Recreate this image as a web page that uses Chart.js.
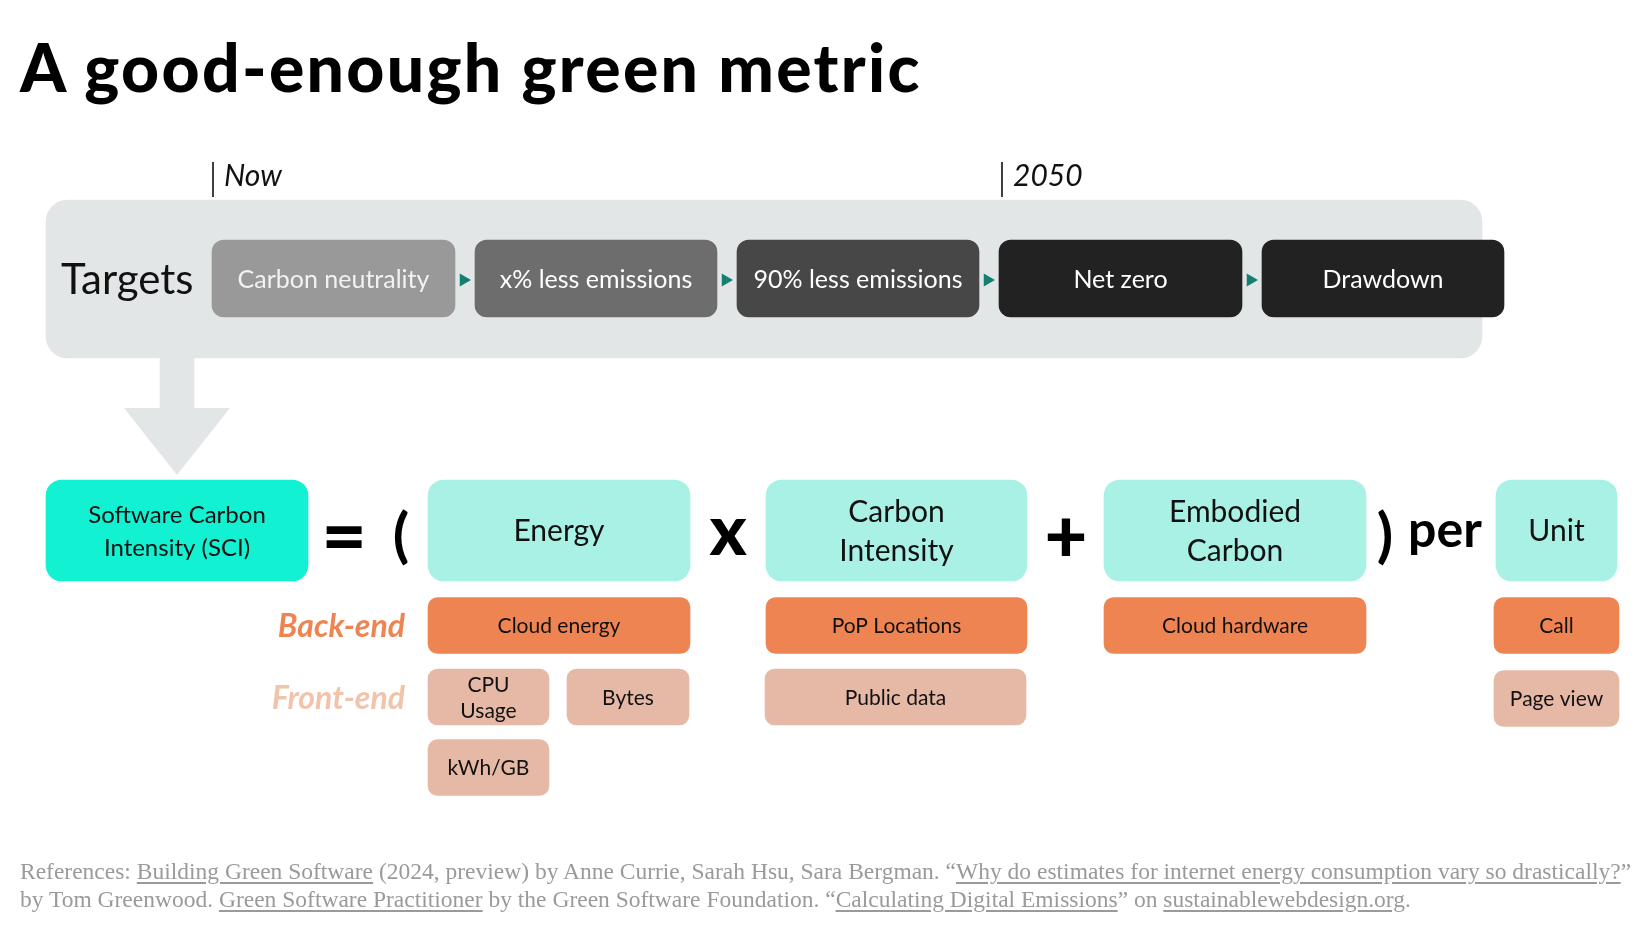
<!DOCTYPE html>
<html>
<head>
<meta charset="utf-8">
<title>A good-enough green metric</title>
<script src="https://cdn.jsdelivr.net/npm/chart.js@4.4.1/dist/chart.umd.min.js"></script>
<style>
  html, body { margin: 0; padding: 0; background: #fff; }
  #wrap { position: relative; width: 1647px; height: 940px; overflow: hidden; }
  #myChart { position: absolute; left: 0; top: 0; }
  h1 { position: absolute; left: 20px; top: 34px; margin: 0; font: 900 66px/66px Lato, sans-serif; letter-spacing: 2.3px; color: #000; white-space: nowrap; }
  .refs { position: absolute; left: 20px; top: 858px; margin: 0; font: 23.5px/27.5px "Liberation Serif", serif; color: #9a9a9a; white-space: nowrap; }
  .refs a { color: #9a9a9a; text-decoration: underline; text-underline-offset: 3px; }
</style>
</head>
<body>
<div id="wrap">
  <canvas id="myChart" width="1647" height="940"></canvas>
  <h1>A good-enough green metric</h1>
  <p class="refs">References: <a>Building Green Software</a> (2024, preview) by Anne Currie, Sarah Hsu, Sara Bergman. “<a>Why do estimates for internet energy consumption vary so drastically?</a>”<br>by Tom Greenwood. <a>Green Software Practitioner</a> by the Green Software Foundation. “<a>Calculating Digital Emissions</a>” on <a>sustainablewebdesign.org</a>.</p>
</div>
<script>
// texts of the slide
const milestones = ['Now', '2050'];
const targets = ['Carbon neutrality', 'x% less emissions', '90% less emissions', 'Net zero', 'Drawdown'];
const terms = [['Software Carbon', 'Intensity (SCI)'], ['Energy'], ['Carbon', 'Intensity'], ['Embodied', 'Carbon'], ['Unit']];
const operators = ['=', '(', 'x', '+', ')', 'per'];
const rowNames = ['Back-end', 'Front-end'];
const backEnd = ['Cloud energy', 'PoP Locations', 'Cloud hardware', 'Call'];
const frontEnd = [['CPU', 'Usage'], ['Bytes'], ['Public data'], ['Page view'], ['kWh/GB']];

// slide layout, 1 unit = 1 px on both axes
const W = 1647, H = 940;
const layout = {
  panel: { x: [46, 1482], y: 279, h: 158 },
  shaft: { x: [160, 194], y: 383, h: 52 },
  head: { x: [124, 177, 230], top: 408, tip: 475 },
  milestoneX: [213, 1002],
  milestoneY: 179.5,
  targetY: 278.5, targetH: 77,
  targetCols: [[212, 455], [475, 717], [737, 979], [999, 1242], [1262, 1504]],
  termY: 530.5, termH: 101,
  termCols: [[46, 308], [428, 690], [766, 1027], [1104, 1366], [1496, 1617]],
  operatorX: [344, 401, 728, 1066, 1385, 1445],
  operatorY: 537,
  backY: 625.5, rowH: 56,
  backCols: [[428, 690], [766, 1027], [1104, 1366], [1494, 1619]],
  frontY: [697, 697, 697, 698.5, 767.5],
  frontCols: [[428, 549], [567, 689], [765, 1026], [1494, 1619], [428, 549]],
};

const grey = '#e3e6e7';
const targetColors = ['#999999', '#6d6d6d', '#474747', '#222222', '#222222'];
const termColors = ['#12f1d1', '#a9f1e5', '#a9f1e5', '#a9f1e5', '#a9f1e5'];

const arrowPoints = layout.targetCols.slice(1).map((c, i) => ({
  x: (layout.targetCols[i][1] + c[0]) / 2 - 1.5,
  y: layout.targetY + 1.5,
}));

const data = {
  datasets: [
    {
      type: 'scatter',
      data: milestones.map((m, i) => ({ x: layout.milestoneX[i], y: layout.milestoneY })),
      pointStyle: 'line', rotation: 90, pointRadius: 17.5,
      borderColor: '#000', borderWidth: 1.5, order: 1,
    },
    {
      type: 'scatter',
      data: arrowPoints,
      pointStyle: 'triangle', rotation: 90, pointRadius: 7.5,
      backgroundColor: '#127f70', borderWidth: 0, order: 1,
    },
    {
      type: 'bar', indexAxis: 'y', grouped: false,
      data: targets.map((t, i) => ({ x: layout.targetCols[i], y: layout.targetY })),
      texts: targets,
      textColor: ['#f2f2f2', '#fff', '#fff', '#fff', '#fff'],
      font: '400 25px Lato', lineHeight: 30,
      backgroundColor: targetColors,
      barThickness: layout.targetH, borderRadius: 12, borderSkipped: false, order: 2,
    },
    {
      type: 'bar', indexAxis: 'y', grouped: false,
      data: terms.map((t, i) => ({ x: layout.termCols[i], y: layout.termY })),
      texts: terms,
      textColor: '#111',
      font: ['400 24px Lato', '400 30px Lato', '400 30px Lato', '400 30px Lato', '400 30px Lato'],
      lineHeight: [33, 39, 39, 39, 39],
      backgroundColor: termColors,
      barThickness: layout.termH, borderRadius: 16, borderSkipped: false, order: 2,
    },
    {
      type: 'bar', indexAxis: 'y', grouped: false,
      data: backEnd.map((t, i) => ({ x: layout.backCols[i], y: layout.backY })),
      texts: backEnd,
      textColor: '#111', font: '400 21px Lato', lineHeight: 26,
      backgroundColor: '#ef8453',
      barThickness: layout.rowH, borderRadius: 10, borderSkipped: false, order: 2,
    },
    {
      type: 'bar', indexAxis: 'y', grouped: false,
      data: frontEnd.map((t, i) => ({ x: layout.frontCols[i], y: layout.frontY[i] })),
      texts: frontEnd,
      textColor: '#111', font: '400 21px Lato', lineHeight: 26,
      backgroundColor: '#e6b9a6',
      barThickness: layout.rowH, borderRadius: 10, borderSkipped: false, order: 2,
    },
    {
      type: 'line',
      data: layout.head.x.map((x, i) => ({ x, y: i === 1 ? layout.head.tip : layout.head.top })),
      fill: { value: layout.head.top },
      backgroundColor: grey, borderColor: 'transparent', borderWidth: 0,
      pointRadius: 0, tension: 0, order: 8,
    },
    {
      type: 'bar', indexAxis: 'y', grouped: false,
      data: [{ x: layout.shaft.x, y: layout.shaft.y }],
      backgroundColor: grey, barThickness: layout.shaft.h, borderRadius: 0, borderSkipped: false, order: 9,
    },
    {
      type: 'bar', indexAxis: 'y', grouped: false,
      data: [{ x: layout.panel.x, y: layout.panel.y }],
      backgroundColor: grey, barThickness: layout.panel.h, borderRadius: 22, borderSkipped: false, order: 10,
    },
  ],
};

const pick = (v, i) => (Array.isArray(v) ? v[i] : v);

// writes the labels into the boxes and the loose words around them
const slideText = {
  id: 'slideText',
  afterDatasetsDraw(chart) {
    const { ctx, scales: { x: sx, y: sy } } = chart;
    ctx.save();
    chart.data.datasets.forEach((ds, di) => {
      if (!ds.texts) return;
      chart.getDatasetMeta(di).data.forEach((bar, i) => {
        const p = bar.getProps(['x', 'y', 'base'], true);
        const lines = [].concat(ds.texts[i]);
        const font = pick(ds.font, i);
        const lh = pick(ds.lineHeight, i);
        const size = parseFloat(font.split(' ')[1]);
        ctx.font = font + ', sans-serif';
        ctx.fillStyle = pick(ds.textColor, i);
        ctx.textAlign = 'center';
        ctx.textBaseline = 'alphabetic';
        const cx = (p.x + p.base) / 2;
        lines.forEach((line, k) => {
          const cy = p.y + (k - (lines.length - 1) / 2) * lh;
          ctx.fillText(line, cx, cy + size * 0.36);
        });
      });
    });

    // "Targets"
    ctx.textAlign = 'left';
    ctx.fillStyle = '#111';
    ctx.font = '400 42px Lato, sans-serif';
    ctx.fillText('Targets', sx.getPixelForValue(61), sy.getPixelForValue(layout.targetY) + 15);

    // milestones
    ctx.font = 'italic 400 30px Lato, sans-serif';
    milestones.forEach((m, i) => {
      ctx.fillText(m, sx.getPixelForValue(layout.milestoneX[i] + 11), sy.getPixelForValue(186));
    });

    // operators of the formula
    ctx.textAlign = 'center';
    ctx.fillStyle = '#000';
    const opFonts = ['900 78px Lato', '700 60px Lato', '900 70px Lato', '900 74px Lato', '700 60px Lato', '700 50px Lato'];
    operators.forEach((op, i) => {
      ctx.font = opFonts[i] + ', sans-serif';
      const m = ctx.measureText(op);
      const cx = sx.getPixelForValue(layout.operatorX[i]);
      let by;
      if (op === 'per') by = sy.getPixelForValue(547);
      else by = sy.getPixelForValue(layout.operatorY) + (m.actualBoundingBoxAscent - m.actualBoundingBoxDescent) / 2;
      ctx.fillText(op, cx, by);
    });

    // row names
    ctx.textAlign = 'right';
    ctx.font = 'italic 700 32px Lato, sans-serif';
    ctx.fillStyle = '#ef8453';
    ctx.fillText(rowNames[0], sx.getPixelForValue(405), sy.getPixelForValue(layout.backY) + 11.5);
    ctx.fillStyle = '#f2c3ab';
    ctx.fillText(rowNames[1], sx.getPixelForValue(405), sy.getPixelForValue(697) + 11.5);
    ctx.restore();
  },
};

const config = {
  type: 'bar',
  data: data,
  options: {
    responsive: false,
    animation: false,
    events: [],
    layout: { padding: 0, autoPadding: false },
    scales: {
      x: { type: 'linear', min: 0, max: W, display: false, offset: false },
      y: { type: 'linear', min: 0, max: H, reverse: true, display: false, offset: false },
    },
    plugins: {
      legend: { display: false },
      tooltip: { enabled: false },
    },
  },
  plugins: [slideText],
};

const myChart = new Chart(document.getElementById('myChart'), config);
</script>
</body>
</html>
